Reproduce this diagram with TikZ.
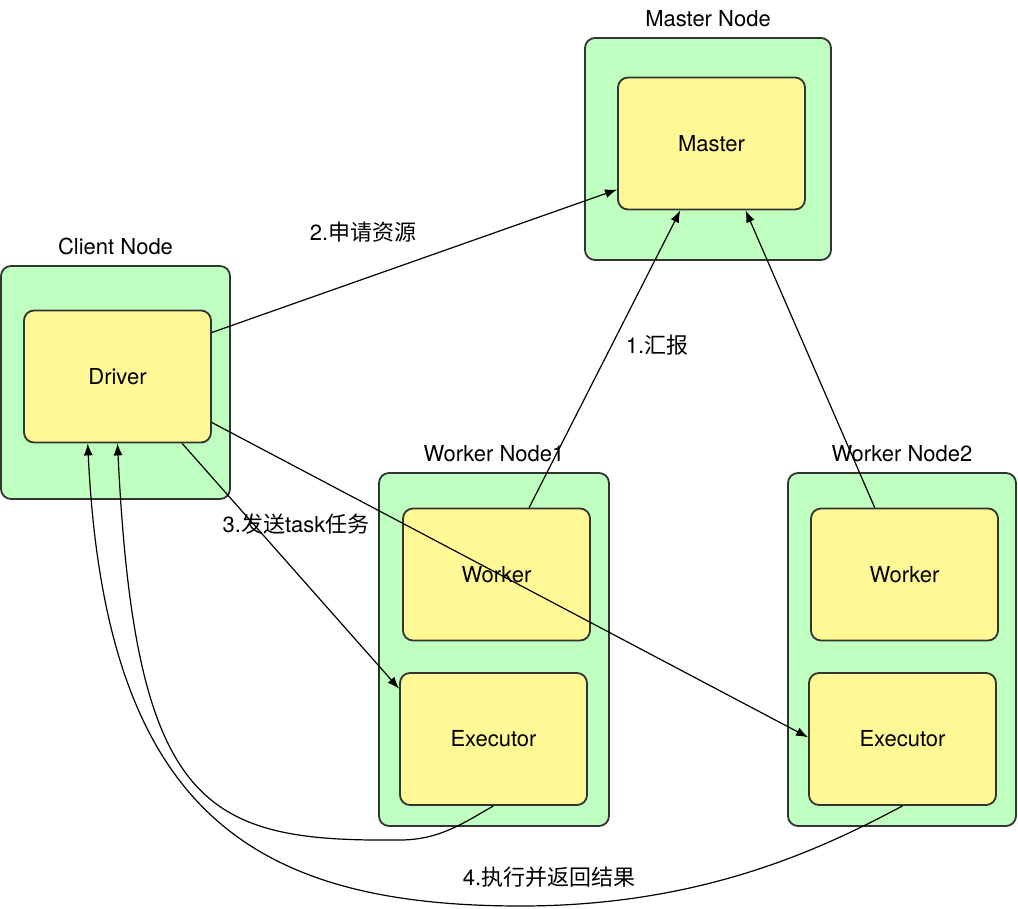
\documentclass[tikz,border=0pt]{standalone}
\usepackage{fontspec}
\setmainfont{TeX Gyre Heros}
\newfontfamily\cjk{Noto Sans CJK SC}
\usepackage{tikz}
\usetikzlibrary{arrows.meta,positioning}

\definecolor{hostgreen}{RGB}{191,255,191}
\definecolor{procyellow}{RGB}{255,248,148}
\definecolor{boxline}{RGB}{51,51,51}

\begin{document}
\begin{tikzpicture}[x=0.5pt,y=-0.5pt,font=\fontsize{11}{13}\selectfont,
host/.style={rectangle,draw=boxline,fill=hostgreen,line width=0.9pt,rounded corners=5pt,inner sep=0pt},
proc/.style={rectangle,draw=boxline,fill=procyellow,line width=0.9pt,rounded corners=5pt,inner sep=0pt,minimum width=93.5pt,minimum height=66pt},
paths/.style={-{Latex[length=6pt,width=4.5pt]},line width=0.6pt},
msg/.style={inner sep=1pt}
]
\useasboundingbox (0,0) rectangle (1018,909);

%% Nodes   %%%%%%%%%%%%%%%%%%%%%%%%%%%%%%%%%%%%%%%%%%%%%%%%%%%%%%%%%%%%%%%%%%%%%%%

%% Rechner
\node [host,minimum width=123pt,minimum height=111pt]   (masternode) at (708,149)   {};
\node [host,minimum width=114.5pt,minimum height=116.5pt] (clientnode) at (115.5,382.5) {};
\node [host,minimum width=115pt,minimum height=176.5pt] (wnode1) at (494,649.5) {};
\node [host,minimum width=114pt,minimum height=176.5pt] (wnode2) at (902,649.5) {};

%% Prozesse
\node [proc] (master)  at (711.5,143.5) {Master};
\node [proc] (driver)  at (117.5,376.5) {Driver};
\node [proc] (worker1) at (496.5,574.5) {Worker};
\node [proc] (exec1)   at (493.5,739)   {Executor};
\node [proc] (worker2) at (904.5,574.5) {Worker};
\node [proc] (exec2)   at (902.5,739)   {Executor};

%% Namen
\foreach \n/\t in {masternode/Master Node, clientnode/Client Node, wnode1/Worker Node1, wnode2/Worker Node2}
\node [msg, above=4pt of \n] (\n-lbl) {\t};


%% Pfade %%%%%%%%%%%%%%%%%%%%%%%%%%%%%%%%%%%%%%%%%%%%%%%%%%%%%%%%%%%%%%%%%%%%%%%%%%%

%% Registrieren
\draw [paths] (worker1.64)  to (master.245);
\draw [paths] (worker2.114) to (master.297);

%% Ressourcen
\draw [paths] (driver.25) to (master.206);

%% Tasks
\draw [paths] (driver.314) to (exec1.152);
\draw [paths] (driver.334) to (exec2.179);

%% Ergebnisse
\draw [paths] (exec1.south) .. controls (465,822) and (440,840) .. (400,840)
                            .. controls (205,842) and (135,810) .. (driver.south);
\draw [paths] (exec2.south) .. controls (820,850) and (700,906) .. (521,906)
                            .. controls (250,906) and (105,810) .. (driver.246);


%% Text %%%%%%%%%%%%%%%%%%%%%%%%%%%%%%%%%%%%%%%%%%%%%%%%%%%%%%%%%%%%%%%%%%%%%%%%%%%%
\node [msg] (step1) at (657,345) {1.{\cjk 汇报}};
\node [msg] (step2) at (363,232) {2.{\cjk 申请资源}};
\node [msg] (step3) at (296,524) {3.{\cjk 发送}task{\cjk 任务}};
\node [msg] (step4) at (549,877) {4.{\cjk 执行并返回结果}};

\end{tikzpicture}
\end{document}
